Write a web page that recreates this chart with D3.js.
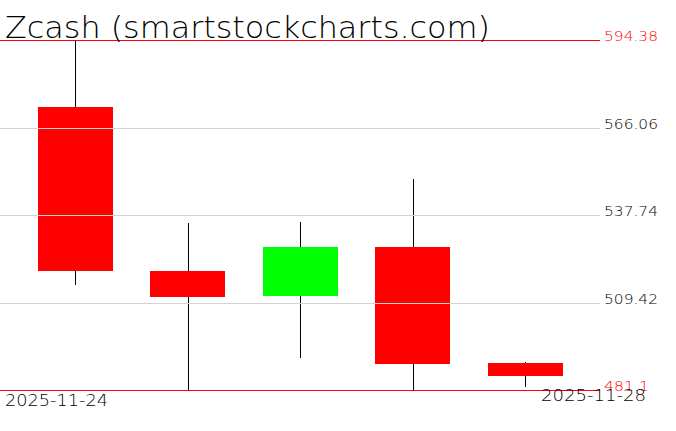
<!DOCTYPE html>
<html>
<head>
<meta charset="utf-8">
<script src="https://cdn.jsdelivr.net/npm/d3@7"></script>
<style>
  body { margin: 0; background: #fff; }
  text { font-family: "DejaVu Sans", sans-serif; }
</style>
</head>
<body>
<script>
var dates  = ["2025-11-24", "2025-11-25", "2025-11-26", "2025-11-27", "2025-11-28"];
var opens  = [572.70, 519.61, 511.53, 527.38, 489.84];
var highs  = [594.38, 535.15, 535.47, 549.39, 490.16];
var lows   = [515.08, 481.10, 491.46, 481.10, 482.07];
var closes = [519.61, 511.20, 527.38, 489.51, 485.63];
var tickValues = [594.38, 566.06, 537.74, 509.42, 481.1];

var width = 676, height = 431;

var candles = dates.map(function(d, i) {
  return { date: d, open: opens[i], high: highs[i], low: lows[i], close: closes[i] };
});

var svg = d3.select("body").append("svg")
    .attr("width", width)
    .attr("height", height);

var x = d3.scaleBand()
    .domain(dates)
    .range([18.75, 581.25])
    .paddingInner(1 / 3)
    .paddingOuter(1 / 6);

var y = d3.scaleLinear()
    .domain([d3.min(lows), d3.max(highs)])
    .range([390, 40]);

var cx = function(d) { return Math.round(x(d.date) + x.bandwidth() / 2) + 0.5; };

// wicks (upper and lower part)
var wicks = svg.append("g").attr("stroke", "#000").attr("stroke-width", 1);
wicks.selectAll("line.up").data(candles).enter().append("line")
    .attr("class", "up")
    .attr("x1", cx).attr("x2", cx)
    .attr("y1", function(d) { return y(d.high); })
    .attr("y2", function(d) { return y(Math.max(d.open, d.close)); });
wicks.selectAll("line.down").data(candles).enter().append("line")
    .attr("class", "down")
    .attr("x1", cx).attr("x2", cx)
    .attr("y1", function(d) { return y(Math.min(d.open, d.close)); })
    .attr("y2", function(d) { return y(d.low); });

// bodies
svg.append("g").selectAll("rect").data(candles).enter().append("rect")
    .attr("x", function(d) { return Math.round(x(d.date)); })
    .attr("width", Math.round(x.bandwidth()))
    .attr("y", function(d) { return Math.round(y(Math.max(d.open, d.close))); })
    .attr("height", function(d) { return Math.round(Math.abs(y(d.open) - y(d.close))); })
    .attr("fill", function(d) { return d.close >= d.open ? "#00ff00" : "#ff0000"; });

// grid lines over the bodies
var inner = tickValues.slice(1, -1);
svg.append("g").selectAll("line").data(inner).enter().append("line")
    .attr("x1", 0).attr("x2", 600)
    .attr("y1", function(d) { return Math.round(y(d)) + 0.5; })
    .attr("y2", function(d) { return Math.round(y(d)) + 0.5; })
    .attr("stroke", "#d3d3d3");

// red max / min lines
var ends = [tickValues[0], tickValues[tickValues.length - 1]];
svg.append("g").selectAll("line").data(ends).enter().append("line")
    .attr("x1", 0).attr("x2", 600)
    .attr("y1", function(d) { return Math.round(y(d)) + 0.5; })
    .attr("y2", function(d) { return Math.round(y(d)) + 0.5; })
    .attr("stroke", "#ff0000");

// price labels
svg.append("g").selectAll("text").data(tickValues).enter().append("text")
    .attr("x", 604)
    .attr("y", function(d) { return Math.round(y(d)) + 1; })
    .attr("font-size", 14)
    .attr("font-weight", 200)
    .attr("textLength", function(d) { return String(d).length * 9; })
    .attr("lengthAdjust", "spacingAndGlyphs")
    .attr("fill", function(d, i) { return (i == 0 || i == tickValues.length - 1) ? "#ff0000" : "#000"; })
    .text(function(d) { return String(d); });

// date labels
svg.append("text")
    .attr("x", 5).attr("y", 406)
    .attr("font-size", 16).attr("font-weight", 200)
    .attr("textLength", 103).attr("lengthAdjust", "spacingAndGlyphs")
    .text(dates[0]);
svg.append("text")
    .attr("x", 646).attr("y", 401)
    .attr("text-anchor", "end")
    .attr("font-size", 16).attr("font-weight", 200)
    .attr("textLength", 105).attr("lengthAdjust", "spacingAndGlyphs")
    .text(dates[dates.length - 1]);

// title
svg.append("text")
    .attr("x", 5).attr("y", 38)
    .attr("font-size", 30).attr("font-weight", 200)
    .attr("textLength", 485).attr("lengthAdjust", "spacingAndGlyphs")
    .text("Zcash (smartstockcharts.com)");
</script>
</body>
</html>
